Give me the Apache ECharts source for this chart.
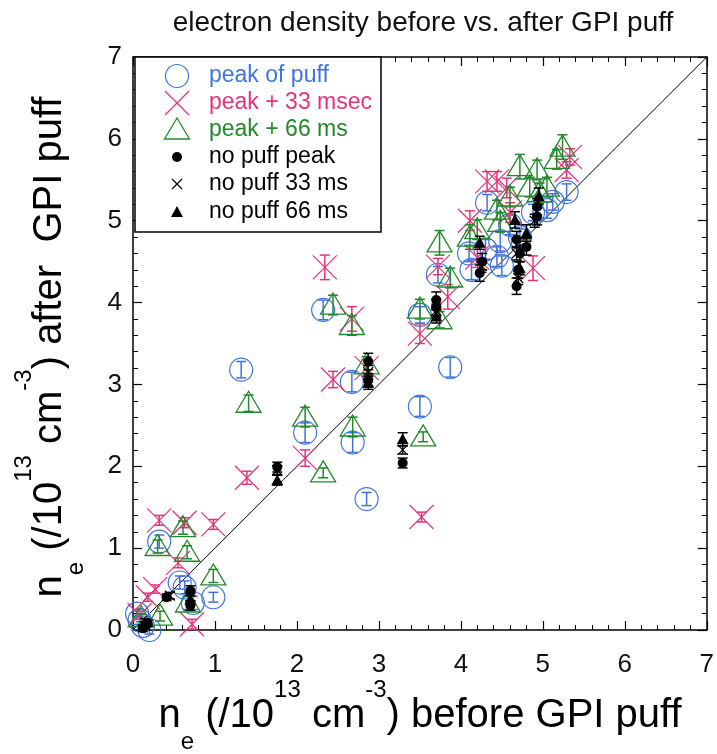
<!DOCTYPE html>
<html>
<head>
<meta charset="utf-8">
<script src="https://cdn.jsdelivr.net/npm/echarts@6/dist/echarts.min.js"></script>
<style>html,body{margin:0;padding:0;background:#fff}#c{width:717px;height:754px}</style>
</head>
<body>
<div id="c"></div>
<script>
// [x (before), y (after), error]
const peakOfPuff = [
  [0.08,0.12,0.05],[0.12,0.05,0.05],[0.2,0.0,0.05],[0.05,0.2,0.05],
  [0.32,1.08,0.08],[0.57,0.58,0.08],[0.63,0.52,0.08],[0.73,0.33,0.08],
  [0.98,0.4,0.06],[1.32,3.18,0.1],[2.1,2.41,0.12],[2.32,3.91,0.12],
  [2.67,3.03,0.12],[2.68,2.29,0.12],[2.85,1.6,0.08],[3.5,2.73,0.12],
  [3.5,3.85,0.1],[3.87,3.21,0.12],[3.72,4.34,0.1],[4.13,4.4,0.12],
  [4.1,4.6,0.1],[4.32,5.22,0.1],[4.44,4.56,0.12],[4.48,4.75,0.12],
  [4.72,4.8,0.1],[4.88,5.1,0.1],[5.05,5.13,0.1],[5.12,5.23,0.1],
  [5.29,5.35,0.1],[4.6,4.95,0.12],[4.3,4.65,0.12],[4.5,4.45,0.12]
];
const peak33 = [
  [0.08,0.18,0.05],[0.18,0.4,0.05],[0.27,0.5,0.05],[0.32,1.34,0.06],
  [0.63,1.31,0.06],[0.98,1.29,0.06],[0.55,0.82,0.06],[0.72,0.07,0.06],
  [1.39,1.86,0.08],[2.1,2.1,0.1],[2.34,4.43,0.15],[2.44,3.06,0.1],
  [2.67,3.8,0.15],[2.85,3.2,0.1],[3.5,3.62,0.12],[3.52,1.38,0.06],
  [3.72,4.44,0.1],[3.84,4.07,0.15],[4.11,5.0,0.12],[4.32,5.48,0.12],
  [4.44,5.48,0.12],[4.56,5.4,0.12],[4.88,4.42,0.15],[5.29,5.62,0.1],
  [5.33,5.78,0.1],[4.2,4.55,0.12],[4.6,5.1,0.12]
];
const peak66 = [
  [0.1,0.15,0.05],[0.33,0.17,0.06],[0.61,1.25,0.08],[0.3,1.02,0.08],
  [0.66,0.95,0.08],[0.98,0.66,0.08],[0.67,0.33,0.08],[1.41,2.77,0.1],
  [2.1,2.6,0.12],[2.68,2.48,0.12],[2.32,1.92,0.06],[2.44,3.97,0.12],
  [2.67,3.72,0.12],[2.85,3.24,0.1],[3.5,3.92,0.12],[3.54,2.36,0.06],
  [3.74,4.73,0.15],[3.87,4.3,0.12],[3.74,3.79,0.1],[4.11,4.8,0.15],
  [4.2,4.89,0.12],[4.44,5.13,0.12],[4.72,5.66,0.15],[4.93,5.62,0.12],
  [4.6,5.29,0.12],[5.17,5.75,0.12],[5.24,5.9,0.15],[5.05,5.41,0.12],
  [4.84,5.41,0.12],[4.48,4.98,0.12],[4.96,5.34,0.12]
];
const noPuffPeak = [
  [0.12,0.02,0.04],[0.18,0.08,0.04],[0.41,0.4,0.04],[0.7,0.3,0.06],
  [0.7,0.48,0.06],[1.76,1.99,0.06],[2.87,3.28,0.1],[2.87,3.05,0.08],
  [3.29,2.04,0.06],[3.7,4.03,0.1],[3.7,3.94,0.1],[4.23,4.36,0.1],
  [4.26,4.5,0.1],[4.68,4.77,0.1],[4.7,4.4,0.1],[4.68,4.2,0.1],
  [4.93,5.17,0.1],[4.93,5.05,0.1],[4.8,4.68,0.1],[4.72,4.6,0.1]
];
const noPuff33 = [
  [0.15,0.05,0.04],[0.45,0.42,0.04],[0.7,0.4,0.05],[1.76,1.95,0.05],
  [2.87,3.15,0.08],[3.29,2.2,0.05],[3.7,3.9,0.08],[4.25,4.45,0.08],
  [4.68,4.6,0.08],[4.9,5.0,0.08],[4.7,4.3,0.08]
];
const noPuff66 = [
  [0.15,0.1,0.04],[0.7,0.37,0.05],[1.76,1.83,0.06],[2.87,3.02,0.08],
  [3.29,2.33,0.08],[3.7,3.83,0.08],[4.23,4.73,0.08],[4.66,5.01,0.1],
  [4.8,4.85,0.1],[4.72,4.42,0.08],[4.95,5.3,0.1]
];
const diagonal = [[0,0],[7,7]];
const legendNames = ['peak of puff','peak + 33 msec','peak + 66 ms','no puff peak','no puff 33 ms','no puff 66 ms'];
const titleText = 'electron density before vs. after GPI puff';

const FONT = 'Liberation Sans, Arial, Helvetica, sans-serif';
const BLUE = '#3f74e0', PINK = '#e5337a', GREEN = '#22892a', BLACK = '#000';

function markerShapes(kind, cx, cy, color) {
  switch (kind) {
    case 'circle':
      return [{type:'circle', shape:{cx, cy, r:11.5}, style:{fill:'none', stroke:color, lineWidth:1.2}}];
    case 'cross':
      return [{type:'line', shape:{x1:cx-12,y1:cy-12,x2:cx+12,y2:cy+12}, style:{stroke:color, lineWidth:1.2}},
              {type:'line', shape:{x1:cx-12,y1:cy+12,x2:cx+12,y2:cy-12}, style:{stroke:color, lineWidth:1.2}}];
    case 'triangle':
      return [{type:'polygon', shape:{points:[[cx,cy-12],[cx-12.5,cy+9],[cx+12.5,cy+9]]}, style:{fill:'none', stroke:color, lineWidth:1.3}}];
    case 'dot':
      return [{type:'circle', shape:{cx, cy, r:5}, style:{fill:color}}];
    case 'smallx':
      return [{type:'line', shape:{x1:cx-5,y1:cy-5,x2:cx+5,y2:cy+5}, style:{stroke:color, lineWidth:1.2}},
              {type:'line', shape:{x1:cx-5,y1:cy+5,x2:cx+5,y2:cy-5}, style:{stroke:color, lineWidth:1.2}}];
    case 'filltri':
      return [{type:'polygon', shape:{points:[[cx,cy-6],[cx-6,cy+5],[cx+6,cy+5]]}, style:{fill:color}}];
  }
  return [];
}

function errSeries(name, data, kind, color, z) {
  return {
    type:'custom', name, data, z, clip:false,
    encode:{x:0, y:1},
    renderItem: function(params, api) {
      const x = api.value(0), y = api.value(1), e = api.value(2);
      const p = api.coord([x, y]);
      const t = api.coord([x, y + e]);
      const b = api.coord([x, y - e]);
      const cw = 5;
      const st = {stroke:color, lineWidth:1.5};
      const children = [
        {type:'line', shape:{x1:p[0], y1:t[1], x2:p[0], y2:b[1]}, style:st},
        {type:'line', shape:{x1:p[0]-cw, y1:t[1], x2:p[0]+cw, y2:t[1]}, style:st},
        {type:'line', shape:{x1:p[0]-cw, y1:b[1], x2:p[0]+cw, y2:b[1]}, style:st}
      ].concat(markerShapes(kind, p[0], p[1], color));
      return {type:'group', children};
    }
  };
}

const axisCommon = {
  type:'value', min:0, max:7, interval:1,
  axisLine:{show:true, onZero:false, lineStyle:{color:'#000', width:1.5}},
  axisTick:{show:true, inside:true, length:9, lineStyle:{color:'#000', width:1.2}},
  minorTick:{show:true, splitNumber:5, length:5, lineStyle:{color:'#000', width:1}},
  splitLine:{show:false},
  minorSplitLine:{show:false}
};

const titleRich = {
  m:{fontSize:40, fontFamily:FONT, color:'#111', lineHeight:76, verticalAlign:'middle'},
  sup:{fontSize:24, fontFamily:FONT, color:'#111', lineHeight:40, verticalAlign:'top'},
  sub:{fontSize:24, fontFamily:FONT, color:'#111', lineHeight:16, verticalAlign:'bottom'}
};

const rowY = [76, 103, 130, 157, 184, 212];
const legendKinds = ['circle','cross','triangle','dot','smallx','filltri'];
const legendColors = [BLUE, PINK, GREEN, BLACK, BLACK, BLACK];
const legendGraphics = [{type:'rect', shape:{x:135, y:57, width:246, height:175}, style:{fill:'#fff', stroke:'#000', lineWidth:1.5}, z:100}];
legendNames.forEach((n, i) => {
  markerShapes(legendKinds[i], 177, rowY[i], legendColors[i]).forEach(s => { s.z = 101; legendGraphics.push(s); });
  legendGraphics.push({type:'text', x:209, y:rowY[i], z:101,
    style:{text:n, fill:legendColors[i], font:'23px ' + FONT, verticalAlign:'middle', align:'left'}});
});

const chart = echarts.init(document.getElementById('c'), null, {renderer:'canvas'});
chart.setOption({
  backgroundColor:'#fff',
  animation:false,
  title:{text:titleText, left:418, top:4, textAlign:'center',
    textStyle:{fontFamily:FONT, fontSize:28, fontWeight:'normal', color:'#111'}},
  grid:{left:133, right:9, top:57, bottom:124, containLabel:false},
  xAxis:[
    Object.assign({}, axisCommon, {position:'bottom',
      axisLabel:{show:true, fontSize:26, fontFamily:FONT, color:'#111', margin:22}}),
    Object.assign({}, axisCommon, {position:'top', axisLabel:{show:false}})
  ],
  yAxis:[
    Object.assign({}, axisCommon, {position:'left',
      axisLabel:{show:true, fontSize:26, fontFamily:FONT, color:'#111', margin:11}}),
    Object.assign({}, axisCommon, {position:'right', axisLabel:{show:false}})
  ],
  graphic:[
    {type:'text', x:420, y:716, z:50,
     style:{text:'{m|n}{sub|e}{m| (/10}{sup|13}{m| cm}{sup|-3}{m|) before GPI puff}', rich:titleRich, align:'center', verticalAlign:'middle'}},
    {type:'text', x:50, y:347, rotation:Math.PI/2, z:50,
     style:{text:'{m|n}{sub|e}{m| (/10}{sup|13}{m| cm}{sup|-3}{m|) after  GPI puff}', rich:titleRich, align:'center', verticalAlign:'middle'}}
  ].concat(legendGraphics),
  series:[
    {type:'line', data:diagonal, symbol:'none', z:1, lineStyle:{color:'#000', width:1}, silent:true},
    errSeries(legendNames[0], peakOfPuff, 'circle', BLUE, 2),
    errSeries(legendNames[1], peak33, 'cross', PINK, 3),
    errSeries(legendNames[2], peak66, 'triangle', GREEN, 4),
    errSeries(legendNames[3], noPuffPeak, 'dot', BLACK, 5),
    errSeries(legendNames[4], noPuff33, 'smallx', BLACK, 6),
    errSeries(legendNames[5], noPuff66, 'filltri', BLACK, 7)
  ]
});
</script>
</body>
</html>
